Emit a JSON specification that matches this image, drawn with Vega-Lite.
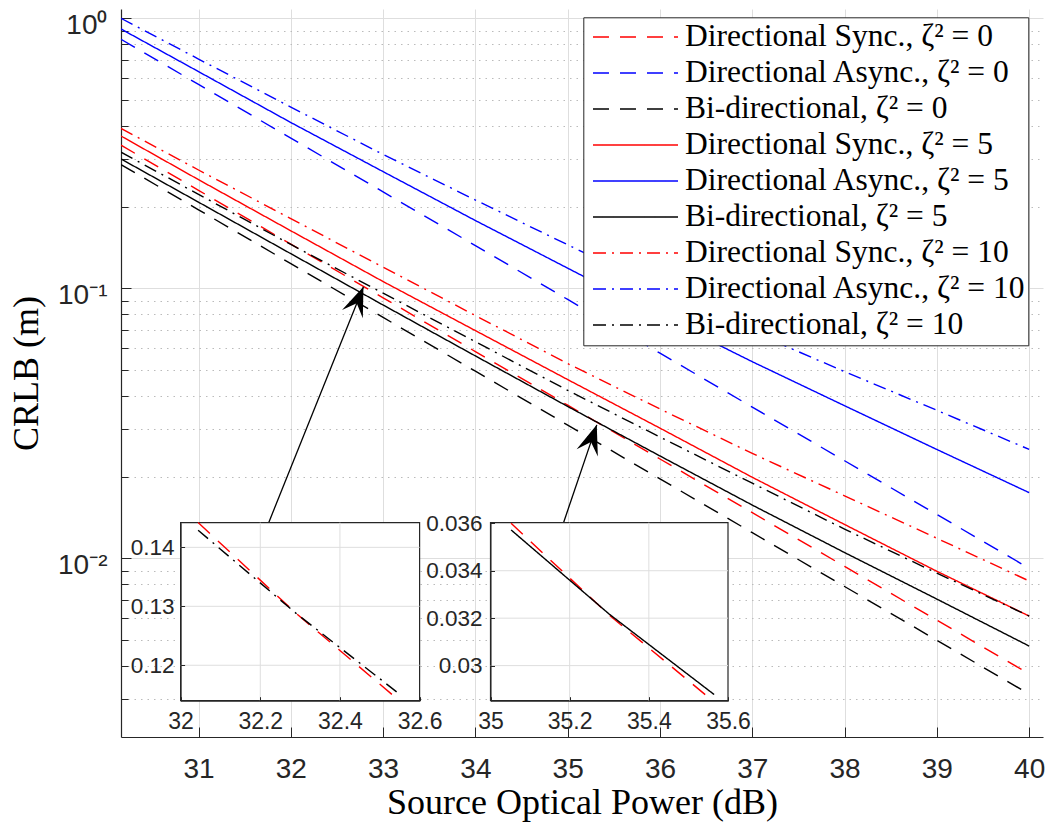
{
  "$schema": "https://vega.github.io/schema/vega-lite/v6.json",
  "width": 922,
  "height": 728,
  "autosize": {"type": "none"},
  "padding": {"left": 121, "top": 9, "right": 5, "bottom": 88},
  "background": "white",
  "config": {
    "view": {"stroke": null},
    "axis": {"labelFont": "Liberation Sans", "labelColor": "#262626", "domainColor": "#262626", "tickColor": "#262626", "titleFont": "Liberation Serif", "titleFontWeight": "normal", "titleColor": "#000000"}
  },
  "datasets": {
    "curves": [
      {"s": "Directional Sync., ζ² = 0", "x": 30.16, "y": 0.3388}, {"s": "Directional Sync., ζ² = 0", "x": 31, "y": 0.2306}, {"s": "Directional Sync., ζ² = 0", "x": 32, "y": 0.1458}, {"s": "Directional Sync., ζ² = 0", "x": 33, "y": 0.0922}, {"s": "Directional Sync., ζ² = 0", "x": 34, "y": 0.0583}, {"s": "Directional Sync., ζ² = 0", "x": 35, "y": 0.0369}, {"s": "Directional Sync., ζ² = 0", "x": 36, "y": 0.02332}, {"s": "Directional Sync., ζ² = 0", "x": 37, "y": 0.01475}, {"s": "Directional Sync., ζ² = 0", "x": 38, "y": 0.00933}, {"s": "Directional Sync., ζ² = 0", "x": 39, "y": 0.0059}, {"s": "Directional Sync., ζ² = 0", "x": 40, "y": 0.00373},
      {"s": "Directional Async., ζ² = 0", "x": 30.16, "y": 0.836}, {"s": "Directional Async., ζ² = 0", "x": 31, "y": 0.569}, {"s": "Directional Async., ζ² = 0", "x": 32, "y": 0.36}, {"s": "Directional Async., ζ² = 0", "x": 33, "y": 0.2275}, {"s": "Directional Async., ζ² = 0", "x": 34, "y": 0.1439}, {"s": "Directional Async., ζ² = 0", "x": 35, "y": 0.0909}, {"s": "Directional Async., ζ² = 0", "x": 36, "y": 0.0575}, {"s": "Directional Async., ζ² = 0", "x": 37, "y": 0.0363}, {"s": "Directional Async., ζ² = 0", "x": 38, "y": 0.02297}, {"s": "Directional Async., ζ² = 0", "x": 39, "y": 0.01453}, {"s": "Directional Async., ζ² = 0", "x": 40, "y": 0.00918},
      {"s": "Bi-directional, ζ² = 0", "x": 30.16, "y": 0.2871}, {"s": "Bi-directional, ζ² = 0", "x": 31, "y": 0.1953}, {"s": "Bi-directional, ζ² = 0", "x": 32, "y": 0.1234}, {"s": "Bi-directional, ζ² = 0", "x": 33, "y": 0.078}, {"s": "Bi-directional, ζ² = 0", "x": 34, "y": 0.0493}, {"s": "Bi-directional, ζ² = 0", "x": 35, "y": 0.03114}, {"s": "Bi-directional, ζ² = 0", "x": 36, "y": 0.01968}, {"s": "Bi-directional, ζ² = 0", "x": 37, "y": 0.01244}, {"s": "Bi-directional, ζ² = 0", "x": 38, "y": 0.00786}, {"s": "Bi-directional, ζ² = 0", "x": 39, "y": 0.00497}, {"s": "Bi-directional, ζ² = 0", "x": 40, "y": 0.00314},
      {"s": "Directional Sync., ζ² = 5", "x": 30.16, "y": 0.3664}, {"s": "Directional Sync., ζ² = 5", "x": 31, "y": 0.2525}, {"s": "Directional Sync., ζ² = 5", "x": 32, "y": 0.1633}, {"s": "Directional Sync., ζ² = 5", "x": 33, "y": 0.1059}, {"s": "Directional Sync., ζ² = 5", "x": 34, "y": 0.0697}, {"s": "Directional Sync., ζ² = 5", "x": 35, "y": 0.0459}, {"s": "Directional Sync., ζ² = 5", "x": 36, "y": 0.03034}, {"s": "Directional Sync., ζ² = 5", "x": 37, "y": 0.01995}, {"s": "Directional Sync., ζ² = 5", "x": 38, "y": 0.01334}, {"s": "Directional Sync., ζ² = 5", "x": 39, "y": 0.00895}, {"s": "Directional Sync., ζ² = 5", "x": 40, "y": 0.00611},
      {"s": "Directional Async., ζ² = 5", "x": 30.16, "y": 0.9128}, {"s": "Directional Async., ζ² = 5", "x": 31, "y": 0.6346}, {"s": "Directional Async., ζ² = 5", "x": 32, "y": 0.4111}, {"s": "Directional Async., ζ² = 5", "x": 33, "y": 0.2704}, {"s": "Directional Async., ζ² = 5", "x": 34, "y": 0.1782}, {"s": "Directional Async., ζ² = 5", "x": 35, "y": 0.1187}, {"s": "Directional Async., ζ² = 5", "x": 36, "y": 0.0791}, {"s": "Directional Async., ζ² = 5", "x": 37, "y": 0.05346}, {"s": "Directional Async., ζ² = 5", "x": 38, "y": 0.03673}, {"s": "Directional Async., ζ² = 5", "x": 39, "y": 0.02529}, {"s": "Directional Async., ζ² = 5", "x": 40, "y": 0.0175},
      {"s": "Bi-directional, ζ² = 5", "x": 30.16, "y": 0.3013}, {"s": "Bi-directional, ζ² = 5", "x": 31, "y": 0.2084}, {"s": "Bi-directional, ζ² = 5", "x": 32, "y": 0.1343}, {"s": "Bi-directional, ζ² = 5", "x": 33, "y": 0.0867}, {"s": "Bi-directional, ζ² = 5", "x": 34, "y": 0.05615}, {"s": "Bi-directional, ζ² = 5", "x": 35, "y": 0.0365}, {"s": "Bi-directional, ζ² = 5", "x": 36, "y": 0.02393}, {"s": "Bi-directional, ζ² = 5", "x": 37, "y": 0.01574}, {"s": "Bi-directional, ζ² = 5", "x": 38, "y": 0.0105}, {"s": "Bi-directional, ζ² = 5", "x": 39, "y": 0.00706}, {"s": "Bi-directional, ζ² = 5", "x": 40, "y": 0.00473},
      {"s": "Directional Sync., ζ² = 10", "x": 30.16, "y": 0.3908}, {"s": "Directional Sync., ζ² = 10", "x": 31, "y": 0.2742}, {"s": "Directional Sync., ζ² = 10", "x": 32, "y": 0.1811}, {"s": "Directional Sync., ζ² = 10", "x": 33, "y": 0.1197}, {"s": "Directional Sync., ζ² = 10", "x": 34, "y": 0.07925}, {"s": "Directional Sync., ζ² = 10", "x": 35, "y": 0.0526}, {"s": "Directional Sync., ζ² = 10", "x": 36, "y": 0.03573}, {"s": "Directional Sync., ζ² = 10", "x": 37, "y": 0.02445}, {"s": "Directional Sync., ζ² = 10", "x": 38, "y": 0.01704}, {"s": "Directional Sync., ζ² = 10", "x": 39, "y": 0.01186}, {"s": "Directional Sync., ζ² = 10", "x": 40, "y": 0.00824},
      {"s": "Directional Async., ζ² = 10", "x": 30.16, "y": 1.0}, {"s": "Directional Async., ζ² = 10", "x": 31, "y": 0.7063}, {"s": "Directional Async., ζ² = 10", "x": 32, "y": 0.4688}, {"s": "Directional Async., ζ² = 10", "x": 33, "y": 0.313}, {"s": "Directional Async., ζ² = 10", "x": 34, "y": 0.2123}, {"s": "Directional Async., ζ² = 10", "x": 35, "y": 0.1449}, {"s": "Directional Async., ζ² = 10", "x": 36, "y": 0.09954}, {"s": "Directional Async., ζ² = 10", "x": 37, "y": 0.06902}, {"s": "Directional Async., ζ² = 10", "x": 38, "y": 0.04913}, {"s": "Directional Async., ζ² = 10", "x": 39, "y": 0.03532}, {"s": "Directional Async., ζ² = 10", "x": 40, "y": 0.02531},
      {"s": "Bi-directional, ζ² = 10", "x": 30.16, "y": 0.3192}, {"s": "Bi-directional, ζ² = 10", "x": 31, "y": 0.2228}, {"s": "Bi-directional, ζ² = 10", "x": 32, "y": 0.1453}, {"s": "Bi-directional, ζ² = 10", "x": 33, "y": 0.0959}, {"s": "Bi-directional, ζ² = 10", "x": 34, "y": 0.06339}, {"s": "Bi-directional, ζ² = 10", "x": 35, "y": 0.04188}, {"s": "Bi-directional, ζ² = 10", "x": 36, "y": 0.02812}, {"s": "Bi-directional, ζ² = 10", "x": 37, "y": 0.01897}, {"s": "Bi-directional, ζ² = 10", "x": 38, "y": 0.01282}, {"s": "Bi-directional, ζ² = 10", "x": 39, "y": 0.00881}, {"s": "Bi-directional, ζ² = 10", "x": 40, "y": 0.00611}
    ],
    "inset1": [
      {"s": "Directional Sync., ζ² = 0", "x": 32.044, "y": 0.1442}, {"s": "Directional Sync., ζ² = 0", "x": 32.29, "y": 0.1288}, {"s": "Directional Sync., ζ² = 0", "x": 32.535, "y": 0.1148},
      {"s": "Bi-directional, ζ² = 10", "x": 32.044, "y": 0.1429}, {"s": "Bi-directional, ζ² = 10", "x": 32.29, "y": 0.1288}, {"s": "Bi-directional, ζ² = 10", "x": 32.545, "y": 0.11535}
    ],
    "inset2": [
      {"s": "Directional Sync., ζ² = 0", "x": 35.052, "y": 0.036}, {"s": "Directional Sync., ζ² = 0", "x": 35.3, "y": 0.03213}, {"s": "Directional Sync., ζ² = 0", "x": 35.548, "y": 0.0287},
      {"s": "Bi-directional, ζ² = 5", "x": 35.052, "y": 0.03572}, {"s": "Bi-directional, ζ² = 5", "x": 35.3, "y": 0.03217}, {"s": "Bi-directional, ζ² = 5", "x": 35.565, "y": 0.02878}
    ],
    "grid1x": [{"g": 32.2}, {"g": 32.4}],
    "grid1y": [{"g": 0.12}, {"g": 0.13}, {"g": 0.14}],
    "grid2x": [{"g": 35.2}, {"g": 35.4}],
    "grid2y": [{"g": 0.03}, {"g": 0.032}, {"g": 0.034}],
    "arrows": [
      {"id": 1, "x0": 31.758, "y0": 0.01349, "x1": 32.787, "y1": 0.1014},
      {"id": 2, "x0": 34.953, "y0": 0.01349, "x1": 35.315, "y1": 0.0312}
    ]
  },
  "layer": [
    {
      "layer": [
        {
          "data": {"name": "curves"},
          "mark": {"type": "line", "strokeWidth": 1.4, "clip": true},
          "encoding": {
            "x": {"field": "x", "type": "quantitative",
              "scale": {"type": "linear", "domain": [30.16, 40.15], "nice": false, "zero": false},
              "axis": {"orient": "bottom", "values": [31, 32, 33, 34, 35, 36, 37, 38, 39, 40], "format": "d", "labelFontSize": 28, "tickSize": -10, "labelPadding": 28, "labelFlush": false, "labelOverlap": false, "grid": true, "gridColor": "#dedede", "domainWidth": 1.2, "title": "Source Optical Power (dB)", "titleFontSize": 36, "titlePadding": 2}},
            "y": {"field": "y", "type": "quantitative",
              "scale": {"type": "log", "domain": [0.002178, 1.0824], "nice": false},
              "axis": {"orient": "left", "values": [0.003, 0.004, 0.005, 0.006, 0.007, 0.008, 0.009, 0.01, 0.02, 0.03, 0.04, 0.05, 0.06, 0.07, 0.08, 0.09, 0.1, 0.2, 0.3, 0.4, 0.5, 0.6, 0.7, 0.8, 0.9, 1],
                "labelExpr": "abs(log(datum.value)/LN10 - round(log(datum.value)/LN10)) < 0.001 ? (round(log(datum.value)/LN10) == 0 ? '10⁰' : (round(log(datum.value)/LN10) == -1 ? '10⁻¹' : '10⁻²')) : ''",
                "labelFontSize": 28, "labelPadding": 24, "labelOffset": 7, "labelOverlap": false, "labelFlush": false,
                "tickSize": {"condition": {"test": "abs(log(datum.value)/LN10 - round(log(datum.value)/LN10)) < 0.001", "value": -10}, "value": -7},
                "grid": true,
                "gridColor": {"condition": {"test": "abs(log(datum.value)/LN10 - round(log(datum.value)/LN10)) < 0.001", "value": "#dedede"}, "value": "#bbbbbb"},
                "gridDash": {"condition": {"test": "abs(log(datum.value)/LN10 - round(log(datum.value)/LN10)) < 0.001", "value": []}, "value": [1.5, 5]},
                "domainWidth": 1.2, "title": "CRLB (m)", "titleFontSize": 36, "titlePadding": 12}},
            "color": {"field": "s", "type": "nominal",
              "scale": {"domain": ["Directional Sync., ζ² = 0", "Directional Async., ζ² = 0", "Bi-directional, ζ² = 0", "Directional Sync., ζ² = 5", "Directional Async., ζ² = 5", "Bi-directional, ζ² = 5", "Directional Sync., ζ² = 10", "Directional Async., ζ² = 10", "Bi-directional, ζ² = 10"],
                "range": ["#ff0000", "#0000ff", "#000000", "#ff0000", "#0000ff", "#000000", "#ff0000", "#0000ff", "#000000"]},
              "legend": {"orient": "none", "legendX": 462.3, "legendY": 8.3, "title": null, "symbolType": "stroke", "symbolSize": 7225, "symbolStrokeWidth": 1.5, "clipHeight": 35.2, "rowPadding": 0, "padding": 2, "labelFont": "Liberation Serif", "labelFontSize": 31.5, "labelColor": "#000000", "labelOffset": 6, "symbolOffset": 6.7, "strokeColor": "#262626", "fillColor": "#ffffff", "labelLimit": 600}},
            "strokeDash": {"field": "s", "type": "nominal",
              "scale": {"domain": ["Directional Sync., ζ² = 0", "Directional Async., ζ² = 0", "Bi-directional, ζ² = 0", "Directional Sync., ζ² = 5", "Directional Async., ζ² = 5", "Bi-directional, ζ² = 5", "Directional Sync., ζ² = 10", "Directional Async., ζ² = 10", "Bi-directional, ζ² = 10"],
                "range": [[16, 11], [16, 11], [16, 11], [1, 0], [1, 0], [1, 0], [13, 6, 2, 6], [13, 6, 2, 6], [13, 6, 2, 6]]},
              "legend": {"orient": "none", "legendX": 462.3, "legendY": 8.3, "title": null, "symbolType": "stroke", "symbolSize": 7225, "symbolStrokeWidth": 1.5, "clipHeight": 35.2, "rowPadding": 0, "padding": 2, "labelFont": "Liberation Serif", "labelFontSize": 31.5, "labelColor": "#000000", "labelOffset": 6, "symbolOffset": 6.7, "strokeColor": "#262626", "fillColor": "#ffffff", "labelLimit": 600}}
          }
        },
        {
          "data": {"name": "arrows"},
          "mark": {"type": "rule", "color": "#000000", "strokeWidth": 1.3},
          "encoding": {
            "x": {"field": "x0", "type": "quantitative"},
            "y": {"field": "y0", "type": "quantitative"},
            "x2": {"field": "x1"},
            "y2": {"field": "y1"}
          }
        },
        {
          "data": {"name": "arrows"},
          "transform": [{"filter": "datum.id == 1"}],
          "mark": {"type": "point", "shape": "M0,0L0.747,1.973L0,1.2L-0.747,1.973Z", "filled": true, "color": "#000000", "opacity": 1, "size": 900, "angle": 21.9},
          "encoding": {
            "x": {"field": "x1", "type": "quantitative"},
            "y": {"field": "y1", "type": "quantitative"}
          }
        },
        {
          "data": {"name": "arrows"},
          "transform": [{"filter": "datum.id == 2"}],
          "mark": {"type": "point", "shape": "M0,0L0.747,1.973L0,1.2L-0.747,1.973Z", "filled": true, "color": "#000000", "opacity": 1, "size": 900, "angle": 18.8},
          "encoding": {
            "x": {"field": "x1", "type": "quantitative"},
            "y": {"field": "y1", "type": "quantitative"}
          }
        }
      ]
    },
    {
      "layer": [
        {
          "data": {"values": [{}]},
          "mark": {"type": "rect", "fill": "#ffffff", "stroke": "#262626", "strokeWidth": 1.2},
          "encoding": {
            "x": {"datum": 32, "type": "quantitative",
              "scale": {"domain": [32, 32.6], "range": [59.6, 298.6], "nice": false, "zero": false},
              "axis": {"orient": "bottom", "offset": -36.3, "values": [32, 32.2, 32.4, 32.6], "format": "~g", "labelFontSize": 23, "tickSize": -4, "labelPadding": 14, "labelFlush": false, "labelOverlap": false, "labelBound": false, "grid": false, "zindex": 1, "title": null}},
            "x2": {"datum": 32.6},
            "y": {"datum": 0.11399, "type": "quantitative",
              "scale": {"domain": [0.11399, 0.14418], "range": [691.7, 513.7], "nice": false, "zero": false},
              "axis": {"orient": "left", "offset": -59.6, "values": [0.12, 0.13, 0.14], "format": ".2f", "labelFontSize": 22.5, "tickSize": -4, "labelPadding": 10.6, "labelFlush": false, "labelOverlap": false, "labelBound": false, "grid": false, "zindex": 1, "title": null}},
            "y2": {"datum": 0.14418}
          }
        },
        {
          "data": {"name": "grid1x"},
          "mark": {"type": "rule", "color": "#dedede", "strokeWidth": 1},
          "encoding": {
            "x": {"field": "g", "type": "quantitative"},
            "y": {"datum": 0.11399, "type": "quantitative"},
            "y2": {"datum": 0.14418}
          }
        },
        {
          "data": {"name": "grid1y"},
          "mark": {"type": "rule", "color": "#dedede", "strokeWidth": 1},
          "encoding": {
            "y": {"field": "g", "type": "quantitative"},
            "x": {"datum": 32, "type": "quantitative"},
            "x2": {"datum": 32.6}
          }
        },
        {
          "data": {"name": "inset1"},
          "mark": {"type": "line", "strokeWidth": 1.4},
          "encoding": {
            "x": {"field": "x", "type": "quantitative"},
            "y": {"field": "y", "type": "quantitative"},
            "color": {"field": "s", "type": "nominal"},
            "strokeDash": {"field": "s", "type": "nominal"}
          }
        }
      ]
    },
    {
      "layer": [
        {
          "data": {"values": [{}]},
          "mark": {"type": "rect", "fill": "#ffffff", "stroke": "#262626", "strokeWidth": 1.2},
          "encoding": {
            "x": {"datum": 35, "type": "quantitative",
              "scale": {"domain": [35, 35.6], "range": [369.5, 607], "nice": false, "zero": false},
              "axis": {"orient": "bottom", "offset": -36.3, "values": [35, 35.2, 35.4, 35.6], "format": "~g", "labelFontSize": 23, "tickSize": -4, "labelPadding": 14, "labelFlush": false, "labelOverlap": false, "labelBound": false, "grid": false, "zindex": 1, "title": null}},
            "x2": {"datum": 35.6},
            "y": {"datum": 0.02852, "type": "quantitative",
              "scale": {"domain": [0.02852, 0.036025], "range": [691.7, 513.7], "nice": false, "zero": false},
              "axis": {"orient": "left", "offset": -369.5, "values": [0.03, 0.032, 0.034, 0.036], "format": "~g", "labelFontSize": 22.5, "tickSize": -4, "labelPadding": 12.5, "labelFlush": false, "labelOverlap": false, "labelBound": false, "grid": false, "zindex": 1, "title": null}},
            "y2": {"datum": 0.036025}
          }
        },
        {
          "data": {"name": "grid2x"},
          "mark": {"type": "rule", "color": "#dedede", "strokeWidth": 1},
          "encoding": {
            "x": {"field": "g", "type": "quantitative"},
            "y": {"datum": 0.02852, "type": "quantitative"},
            "y2": {"datum": 0.036025}
          }
        },
        {
          "data": {"name": "grid2y"},
          "mark": {"type": "rule", "color": "#dedede", "strokeWidth": 1},
          "encoding": {
            "y": {"field": "g", "type": "quantitative"},
            "x": {"datum": 35, "type": "quantitative"},
            "x2": {"datum": 35.6}
          }
        },
        {
          "data": {"name": "inset2"},
          "mark": {"type": "line", "strokeWidth": 1.4},
          "encoding": {
            "x": {"field": "x", "type": "quantitative"},
            "y": {"field": "y", "type": "quantitative"},
            "color": {"field": "s", "type": "nominal"},
            "strokeDash": {"field": "s", "type": "nominal"}
          }
        }
      ]
    }
  ],
  "resolve": {"scale": {"x": "independent", "y": "independent"}}
}
